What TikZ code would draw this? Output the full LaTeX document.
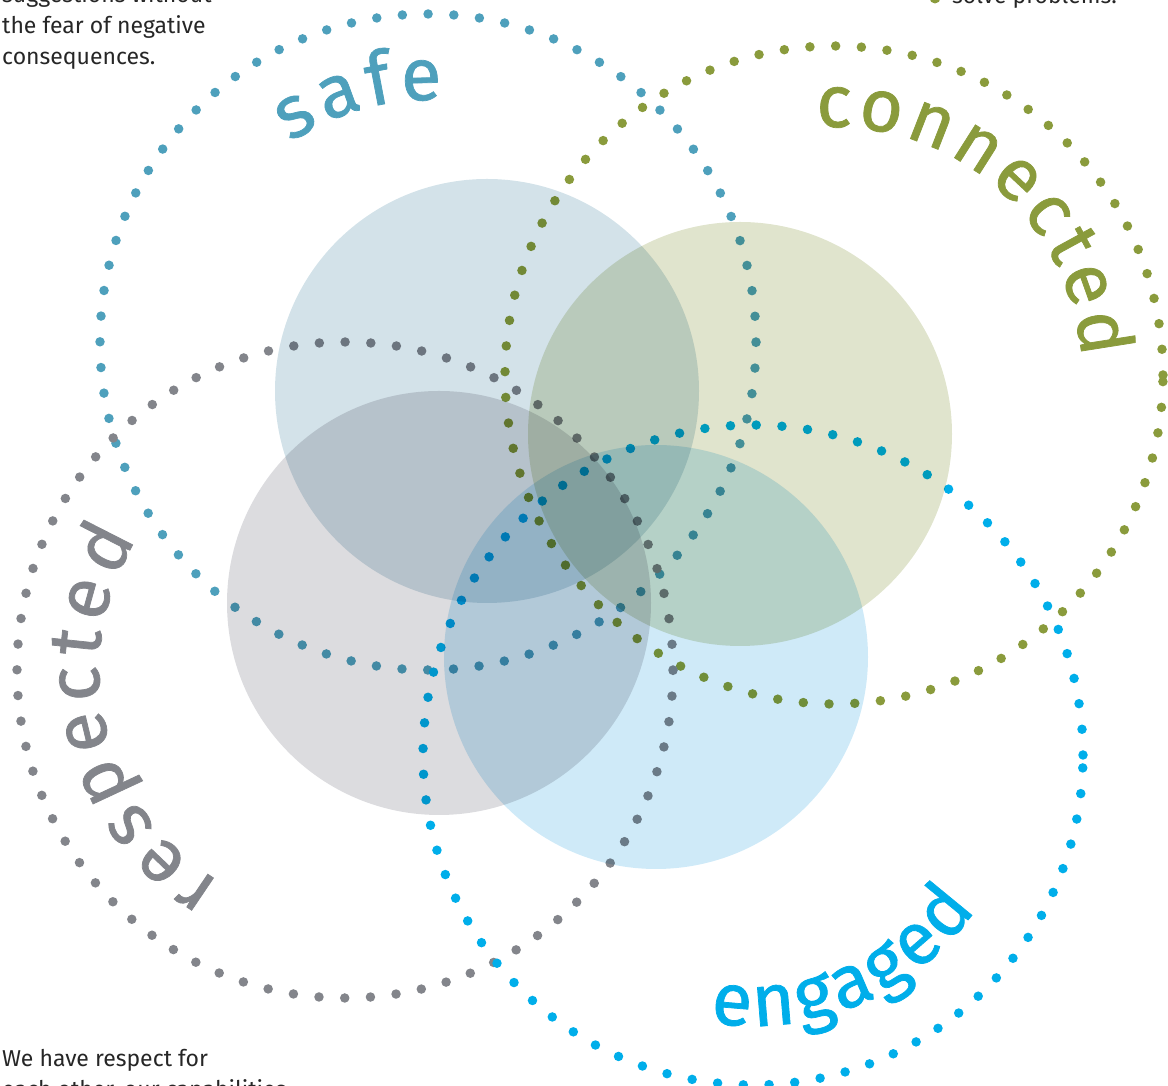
\documentclass[tikz,border=0pt]{standalone}
\usepackage{fontspec}
\setmainfont{Fira Sans}
\newfontfamily\wordfont{Fira Sans}[FakeBold=1]
\usetikzlibrary{calc}

\definecolor{safec}{HTML}{4EA0BC}
\definecolor{connc}{HTML}{8A9B3C}
\definecolor{respc}{HTML}{83858B}
\definecolor{engc}{HTML}{00AEEA}
\definecolor{safefill}{HTML}{D3E2E9}
\definecolor{connfill}{HTML}{E0E4CD}
\definecolor{respfill}{HTML}{DCDCDF}
\definecolor{engfill}{HTML}{CFEAF8}
\definecolor{bodyc}{HTML}{262626}

\begin{document}
\begin{tikzpicture}[x=1pt,y=1pt,
  dotring/.style={line width=9.5pt, line cap=round, dash pattern=on 0pt off 25.76pt},
  disc/.style={blend mode=multiply},
  bigword/.style={anchor=base, inner sep=0pt, font=\wordfont\fontsize{74}{80}\selectfont},
  bodytext/.style={anchor=base west, inner sep=0pt, text=bodyc, font=\fontsize{23}{31}\selectfont}]
\useasboundingbox (0,0) rectangle (1168,1086);
\clip (0,0) rectangle (1168,1086);

% centres of the dotted rings
\coordinate (dS) at (428,744);
\coordinate (dC) at (834,711);
\coordinate (dR) at (345,416);
\coordinate (dE) at (753,331);
% centres of the tinted discs
\coordinate (fS) at (487,695);
\coordinate (fC) at (740,652);
\coordinate (fR) at (439,483);
\coordinate (fE) at (656,429);

% dotted rings
\draw[dotring, safec] (dS) circle (328);
\draw[dotring, connc] (dC) circle (329);
\draw[dotring, respc] (dR) circle (328);
\draw[dotring, engc]  (dE) circle (330);

% overlapping discs
\fill[disc, safefill] (fS) circle (212);
\fill[disc, connfill] (fC) circle (212);
\fill[disc, respfill] (fR) circle (212);
\fill[disc, engfill]  (fE) circle (212);

% words set along the rings
\foreach \ch/\ang [count=\i] in {s/120.5, a/110.0, f/100.8, e/91.5}
  \node[bigword, text=safec, rotate=\ang-90] (safe\i) at ($(dS)+(\ang:242)$) {\ch};
\foreach \ch/\ang [count=\i] in {c/90, o/79.8, n/68.7, n/57.6, e/46.9, c/37.0, t/28.6, e/19.7, d/9.0}
  \node[bigword, text=connc, rotate=\ang-90] (conn\i) at ($(dC)+(\ang:248)$) {\ch};
\foreach \ch/\ang [count=\i] in {r/236, e/226.3, s/215.8, p/205.0, e/193.5, c/183.0, t/174.0, e/164.5, d/153.0}
  \node[bigword, text=respc, rotate=\ang-90] (resp\i) at ($(dR)+(\ang:246)$) {\ch};
\foreach \ch/\ang [count=\i] in {e/265.2, n/274.7, g/284.1, a/293.1, g/302.0, e/311.1, d/320.6}
  \node[bigword, text=engc, rotate=\ang+90] (eng\i) at ($(dE)+(\ang:271)$) {\ch};

% captions
\node[bodytext] (tl1) at (2,1083) {suggestions without};
\node[bodytext] (tl2) at (2,1052) {the fear of negative};
\node[bodytext] (tl3) at (2,1021) {consequences.};
\node[bodytext] (bl1) at (2,19) {We have respect for};
\node[bodytext] (bl2) at (2,-12) {each other, our capabilities};
\fill[connc] (935,1088) circle (5.5);
\node[bodytext] (tr1) at (952,1082) {solve problems.};
\end{tikzpicture}
\end{document}
